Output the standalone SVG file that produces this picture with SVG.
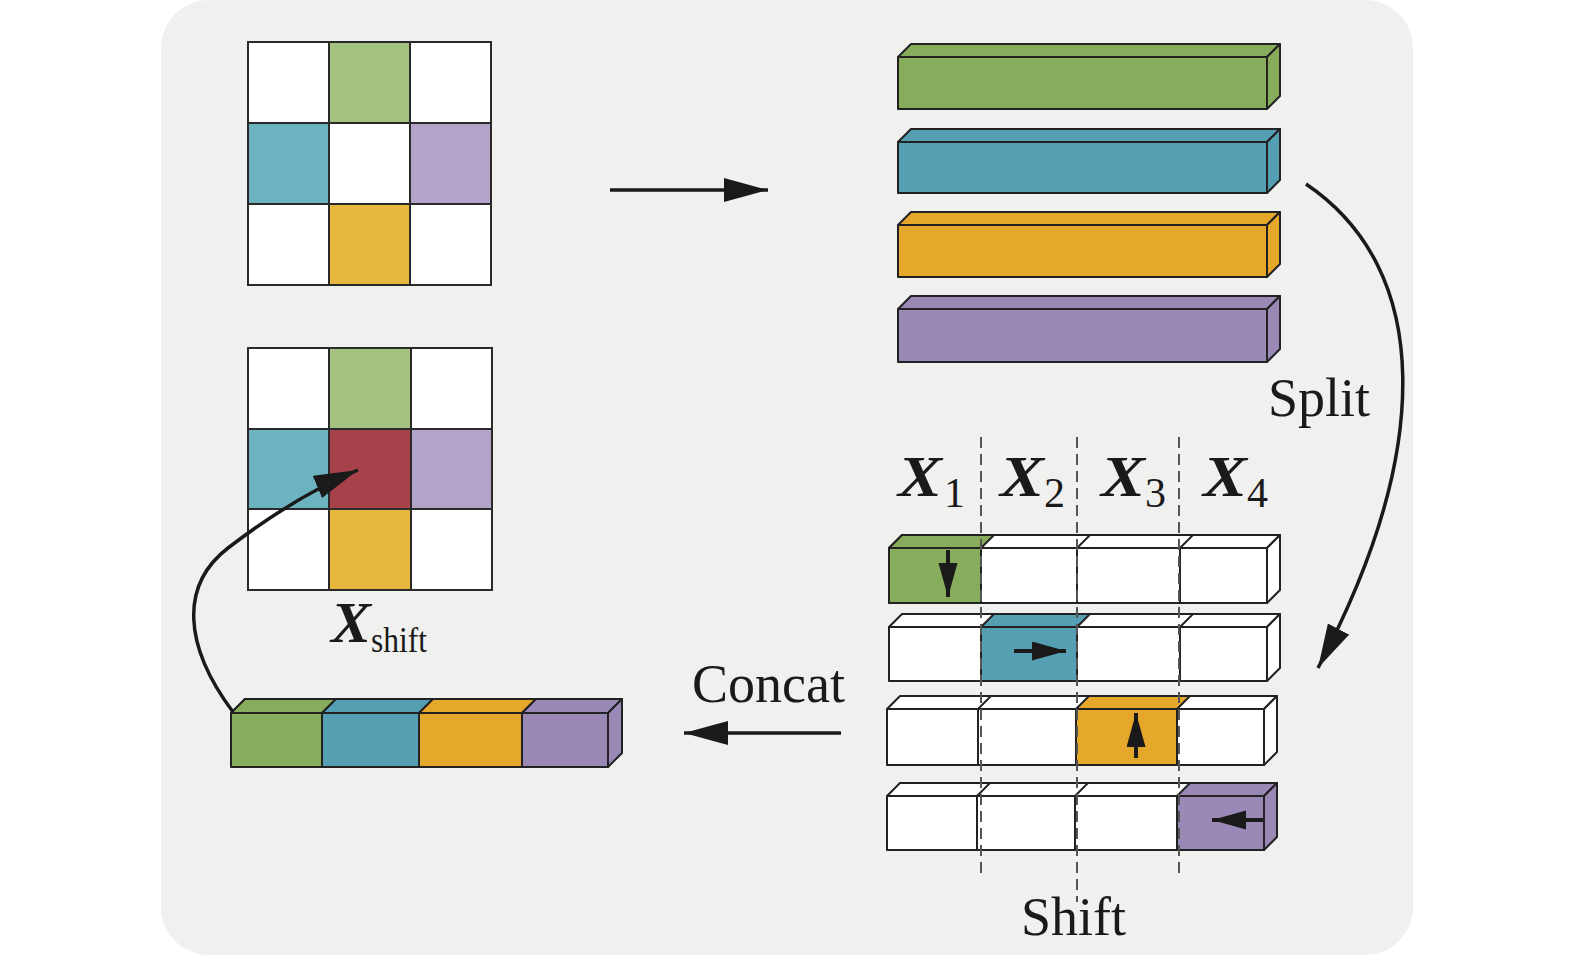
<svg xmlns="http://www.w3.org/2000/svg" width="1575" height="957" viewBox="0 0 1575 957">
<defs>
<style>
.bg{fill:#f0f0ef}
.cell{stroke:#2a2a2a;stroke-width:2}
.wh{fill:#ffffff}
.g1{fill:#a3c27f}.t1{fill:#6db3bf}.p1{fill:#b3a3c9}.y1{fill:#e7b73e}.r1{fill:#a8424a}
.g2{fill:#87ad5c}.t2{fill:#559fb3}.y2{fill:#e5a82a}.p2{fill:#9a89b6}
.box{stroke:#222;stroke-width:2;stroke-linejoin:round}
.dash{stroke:#555;stroke-width:2;stroke-dasharray:11 6;fill:none}
.conn{stroke:#1a1a1a;stroke-width:3.5;fill:none}
.sm{stroke:#1a1a1a;stroke-width:4;fill:none}
.lbl{font-family:"Liberation Serif","Times New Roman",serif;fill:#1a1a1a}
.xb{font-family:"Liberation Serif","Times New Roman",serif;font-weight:bold;font-style:italic;fill:#1a1a1a}
</style>
<marker id="ah" markerUnits="userSpaceOnUse" markerWidth="46" markerHeight="26" refX="44" refY="12" orient="auto">
<path d="M0,0 L44,12 L0,24 z" fill="#1a1a1a"/>
</marker>
<marker id="sa" markerUnits="userSpaceOnUse" markerWidth="36" markerHeight="20" refX="34" refY="9.5" orient="auto">
<path d="M0,0 L34,9.5 L0,19 z" fill="#1a1a1a"/>
</marker>
</defs>
<rect class="bg" x="161" y="0" width="1252" height="955" rx="48" ry="48"/>

<g id="grid-top">
<rect class="cell wh" x="248" y="42" width="81" height="81"/>
<rect class="cell g1" x="329" y="42" width="81" height="81"/>
<rect class="cell wh" x="410" y="42" width="81" height="81"/>
<rect class="cell t1" x="248" y="123" width="81" height="81"/>
<rect class="cell wh" x="329" y="123" width="81" height="81"/>
<rect class="cell p1" x="410" y="123" width="81" height="81"/>
<rect class="cell wh" x="248" y="204" width="81" height="81"/>
<rect class="cell y1" x="329" y="204" width="81" height="81"/>
<rect class="cell wh" x="410" y="204" width="81" height="81"/>
</g>

<g id="grid-shift">
<rect class="cell wh" x="248" y="348" width="81" height="81"/>
<rect class="cell g1" x="329" y="348" width="82" height="81"/>
<rect class="cell wh" x="411" y="348" width="81" height="81"/>
<rect class="cell t1" x="248" y="429" width="81" height="80"/>
<rect class="cell r1" x="329" y="429" width="82" height="80"/>
<rect class="cell p1" x="411" y="429" width="81" height="80"/>
<rect class="cell wh" x="248" y="509" width="81" height="81"/>
<rect class="cell y1" x="329" y="509" width="82" height="81"/>
<rect class="cell wh" x="411" y="509" width="81" height="81"/>
<text class="xb" x="331" y="642" font-size="56" textLength="40" lengthAdjust="spacingAndGlyphs">X</text>
<text class="lbl" x="371" y="652" font-size="35" textLength="56" lengthAdjust="spacingAndGlyphs">shift</text>
</g>

<g id="bars">
<g id="bar-green">
<polygon class="box g2" points="898,57 911,44 1280,44 1267,57"/>
<polygon class="box g2" points="1267,57 1280,44 1280,96 1267,109"/>
<rect class="box g2" x="898" y="57" width="369" height="52"/>
</g>
<g id="bar-teal">
<polygon class="box t2" points="898,142 911,129 1280,129 1267,142"/>
<polygon class="box t2" points="1267,142 1280,129 1280,180 1267,193"/>
<rect class="box t2" x="898" y="142" width="369" height="51"/>
</g>
<g id="bar-yellow">
<polygon class="box y2" points="898,225 911,212 1280,212 1267,225"/>
<polygon class="box y2" points="1267,225 1280,212 1280,264 1267,277"/>
<rect class="box y2" x="898" y="225" width="369" height="52"/>
</g>
<g id="bar-purple">
<polygon class="box p2" points="898,309 911,296 1280,296 1267,309"/>
<polygon class="box p2" points="1267,309 1280,296 1280,349 1267,362"/>
<rect class="box p2" x="898" y="309" width="369" height="53"/>
</g>
</g>

<g id="labels-x">
<text class="xb" x="898" y="496" font-size="56" textLength="44" lengthAdjust="spacingAndGlyphs">X</text><text class="lbl" x="944" y="507" font-size="42">1</text>
<text class="xb" x="1000" y="496" font-size="56" textLength="44" lengthAdjust="spacingAndGlyphs">X</text><text class="lbl" x="1044" y="507" font-size="42">2</text>
<text class="xb" x="1101" y="496" font-size="56" textLength="44" lengthAdjust="spacingAndGlyphs">X</text><text class="lbl" x="1145" y="507" font-size="42">3</text>
<text class="xb" x="1203" y="496" font-size="56" textLength="44" lengthAdjust="spacingAndGlyphs">X</text><text class="lbl" x="1247" y="507" font-size="42">4</text>
</g>

<g id="shift-row1">
<polygon class="box wh" points="889,548 902,535 1280,535 1267,548"/>
<polygon class="box g2" points="889,548 902,535 994,535 981,548"/>
<polygon class="box wh" points="1267,548 1280,535 1280,590 1267,603"/>
<rect class="box wh" x="889" y="548" width="378" height="55"/>
<rect class="box g2" x="889" y="548" width="92" height="55"/>
<line class="box" x1="1077" y1="548" x2="1090" y2="535"/><line class="box" x1="1180" y1="548" x2="1193" y2="535"/>
<line class="box" x1="1077" y1="548" x2="1077" y2="603"/><line class="box" x1="1180" y1="548" x2="1180" y2="603"/>
<line class="sm" x1="948" y1="550" x2="948" y2="597" marker-end="url(#sa)"/>
</g>
<g id="shift-row2">
<polygon class="box wh" points="889,627 902,614 1280,614 1267,627"/>
<polygon class="box t2" points="981,627 994,614 1090,614 1077,627"/>
<polygon class="box wh" points="1267,627 1280,614 1280,668 1267,681"/>
<rect class="box wh" x="889" y="627" width="378" height="54"/>
<rect class="box t2" x="981" y="627" width="96" height="54"/>
<line class="box" x1="1180" y1="627" x2="1193" y2="614"/>
<line class="box" x1="1180" y1="627" x2="1180" y2="681"/>
<line class="sm" x1="1014" y1="651" x2="1066" y2="651" marker-end="url(#sa)"/>
</g>
<g id="shift-row3">
<polygon class="box wh" points="887,709 900,696 1277,696 1264,709"/>
<polygon class="box y2" points="1076,709 1089,696 1190,696 1177,709"/>
<polygon class="box wh" points="1264,709 1277,696 1277,752 1264,765"/>
<rect class="box wh" x="887" y="709" width="377" height="56"/>
<rect class="box y2" x="1076" y="709" width="101" height="56"/>
<line class="box" x1="978" y1="709" x2="991" y2="696"/>
<line class="box" x1="978" y1="709" x2="978" y2="765"/>
<line class="sm" x1="1136" y1="758" x2="1136" y2="713" marker-end="url(#sa)"/>
</g>
<g id="shift-row4">
<polygon class="box wh" points="887,796 900,783 1277,783 1264,796"/>
<polygon class="box p2" points="1177,796 1190,783 1277,783 1264,796"/>
<polygon class="box p2" points="1264,796 1277,783 1277,837 1264,850"/>
<rect class="box wh" x="887" y="796" width="377" height="54"/>
<rect class="box p2" x="1177" y="796" width="87" height="54"/>
<line class="box" x1="977" y1="796" x2="990" y2="783"/><line class="box" x1="1075" y1="796" x2="1088" y2="783"/>
<line class="box" x1="977" y1="796" x2="977" y2="850"/><line class="box" x1="1075" y1="796" x2="1075" y2="850"/>
<line class="sm" x1="1263" y1="820" x2="1212" y2="820" marker-end="url(#sa)"/>
</g>

<g id="dividers">
<line class="dash" x1="981" y1="437" x2="981" y2="876"/>
<line class="dash" x1="1077" y1="437" x2="1077" y2="902"/>
<line class="dash" x1="1179" y1="437" x2="1179" y2="876"/>
</g>

<g id="concat-bar">
<polygon class="box wh" points="231,713 245,699 622,699 608,713"/>
<polygon class="box g2" points="231,713 245,699 336,699 322,713"/>
<polygon class="box t2" points="322,713 336,699 433,699 419,713"/>
<polygon class="box y2" points="419,713 433,699 536,699 522,713"/>
<polygon class="box p2" points="522,713 536,699 622,699 608,713"/>
<polygon class="box p2" points="608,713 622,699 622,753 608,767"/>
<rect class="box g2" x="231" y="713" width="91" height="54"/>
<rect class="box t2" x="322" y="713" width="97" height="54"/>
<rect class="box y2" x="419" y="713" width="103" height="54"/>
<rect class="box p2" x="522" y="713" width="86" height="54"/>
</g>

<g id="connectors">
<line class="conn" x1="610" y1="190" x2="768" y2="190" marker-end="url(#ah)"/>
<path class="conn" d="M1306,184 C1433,270 1433,450 1318,668" marker-end="url(#ah)"/>
<line class="conn" x1="841" y1="733" x2="684" y2="733" marker-end="url(#ah)"/>
<path class="conn" d="M233,712 C183,645 180,585 228,548 C262,522 310,490 358,470" marker-end="url(#ah)"/>
</g>

<g id="texts">
<text class="lbl" x="1268" y="416" font-size="54">Split</text>
<text class="lbl" x="692" y="702" font-size="54">Concat</text>
<text class="lbl" x="1021" y="935" font-size="54">Shift</text>
</g>
</svg>
